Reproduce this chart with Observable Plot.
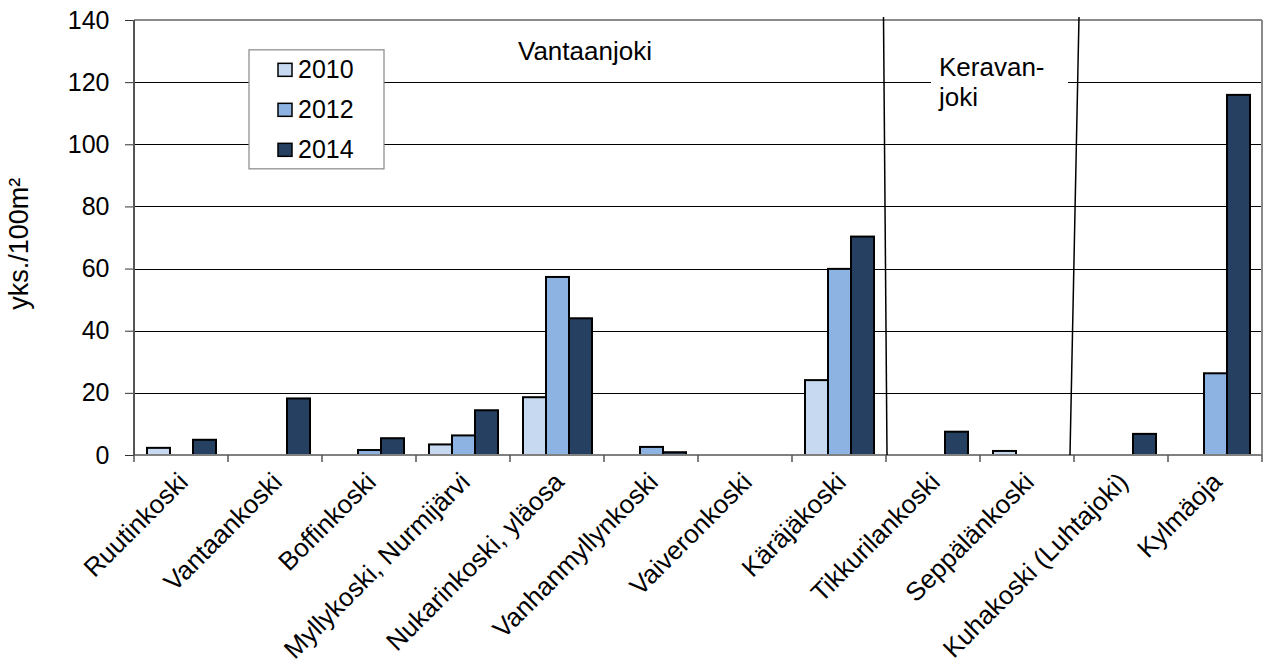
<!DOCTYPE html>
<html><head><meta charset="utf-8">
<script src="https://cdn.jsdelivr.net/npm/d3@7"></script>
<script src="https://cdn.jsdelivr.net/npm/@observablehq/plot@0.6"></script>
<style>html,body{margin:0;padding:0;background:#fff;} #chart svg{display:block;}</style>
</head><body><div id="chart"></div>
<script>
const categories = ["Ruutinkoski","Vantaankoski","Boffinkoski","Myllykoski, Nurmijärvi","Nukarinkoski, yläosa","Vanhanmyllynkoski","Vaiveronkoski","Käräjäkoski","Tikkurilankoski","Seppälänkoski","Kuhakoski (Luhtajoki)","Kylmäoja"];
const years = ["2010","2012","2014"];
const v2010 = [2.3, null, null, 3.4, 18.6, null, null, 24.1, null, 1.3, null, null];
const v2012 = [null, null, 1.6, 6.3, 57.3, 2.6, null, 59.9, null, null, null, 26.3];
const v2014 = [4.9, 18.2, 5.4, 14.4, 44.0, 0.9, null, 70.3, 7.5, null, 6.8, 115.9];
const colors = ["#C6D9F1","#8DB3E2","#254061"];
const yTicks = [0,20,40,60,80,100,120,140];
const yLabel = "yks./100m²";
const riverMain = "Vantaanjoki";
const riverKerava = ["Keravan-", "joki"];

const series = [v2010, v2012, v2014];
const rows = [];
categories.forEach((c, i) => {
  series.forEach((arr, j) => {
    if (arr[i] != null) rows.push({category: c, year: years[j], value: arr[i]});
  });
});

const FONT = "'Liberation Sans', Arial, sans-serif";
const FS = 25;

const plot = Plot.plot({
  width: 1264, height: 671,
  marginLeft: 133, marginRight: 2, marginTop: 20, marginBottom: 216,
  style: {fontFamily: FONT, fontSize: FS + "px", color: "#000", background: "#fff"},
  fx: {domain: categories, padding: 0, axis: null},
  x: {domain: years, paddingInner: 0, paddingOuter: 0.46, axis: null},
  y: {domain: [0, 140], axis: null},
  color: {domain: years, range: colors},
  marks: [
    Plot.ruleY(yTicks.filter(t => t > 0 && t < 140), {stroke: "#000", strokeWidth: 1, shapeRendering: "crispEdges"}),
    Plot.barY(rows, {fx: "category", x: "year", y: "value", fill: "year", stroke: "#000", strokeWidth: 2, insetLeft: 0, insetRight: 0}),
    Plot.axisY({ticks: yTicks, tickSize: 9, tickPadding: 16, fontSize: FS, label: null, stroke: "#333"}),
    Plot.text(categories, {fx: d => d, text: d => d, frameAnchor: "bottom", rotate: -45, textAnchor: "end", lineAnchor: "top", dy: 15, dx: -5, fontSize: 26})
  ]
});
document.getElementById("chart").appendChild(plot);

// Overlay decorations positioned from the plot's scales
const svg = d3.select(plot);
const fxS = plot.scale("fx"), yS = plot.scale("y");
const bw = fxS.bandwidth;
const xAt = i => i < categories.length ? fxS.apply(categories[i]) : fxS.apply(categories[categories.length - 1]) + bw;
const left = xAt(0), right = xAt(categories.length);
const y0 = yS.apply(0), yTop = yS.apply(140);
const g = svg.append("g").attr("text-anchor", "start");

// plot area border
g.append("line").attr("x1", left).attr("x2", right).attr("y1", yTop).attr("y2", yTop).attr("stroke", "#8a8a8a").attr("stroke-width", 2);
g.append("line").attr("x1", right).attr("x2", right).attr("y1", yTop).attr("y2", y0).attr("stroke", "#8a8a8a").attr("stroke-width", 2);
g.append("line").attr("x1", left).attr("x2", right).attr("y1", y0).attr("y2", y0).attr("stroke", "#808080").attr("stroke-width", 2);
g.append("line").attr("x1", left).attr("x2", left).attr("y1", yTop).attr("y2", y0).attr("stroke", "#555").attr("stroke-width", 2);
// x category boundary ticks
for (let i = 0; i <= categories.length; i++) {
  g.append("line").attr("x1", xAt(i)).attr("x2", xAt(i)).attr("y1", y0).attr("y2", y0 + 7).attr("stroke", "#555").attr("stroke-width", 1.5);
}
// river separators
const b1 = xAt(8), b2 = xAt(10);
g.append("line").attr("x1", b1 - 2.5).attr("y1", yTop - 3).attr("x2", b1 + 1).attr("y2", y0).attr("stroke", "#000").attr("stroke-width", 1.5);
g.append("line").attr("x1", b2 + 5).attr("y1", yTop - 3).attr("x2", b2 - 4).attr("y2", y0).attr("stroke", "#000").attr("stroke-width", 1.5);

// text helper
const txt = (x, y, s, fs) => g.append("text").attr("x", x).attr("y", y).attr("font-family", FONT).attr("font-size", fs).attr("fill", "#000").attr("text-anchor", "start").text(s);

// y axis title
g.append("text").attr("transform", `translate(${left - 106},${yS.apply(68)}) rotate(-90)`)
  .attr("text-anchor", "middle").attr("font-family", FONT).attr("font-size", 27).attr("fill", "#000").text(yLabel);

// river labels
txt(xAt(4) + 8, yS.apply(127), riverMain, 26);
g.append("rect").attr("x", xAt(8) + 45).attr("y", yS.apply(131)).attr("width", 137).attr("height", 64).attr("fill", "#fff");
txt(xAt(8) + 53, yS.apply(122), riverKerava[0], 26);
txt(xAt(8) + 53, yS.apply(112.3), riverKerava[1], 26);

// legend
const lx = xAt(1) + 21, ly = yS.apply(130.4);
g.append("rect").attr("x", lx).attr("y", ly).attr("width", 135).attr("height", 119).attr("fill", "#fff").attr("stroke", "#888").attr("stroke-width", 1.2);
years.forEach((yr, j) => {
  const cy = ly + 20 + j * 40;
  g.append("rect").attr("x", lx + 29).attr("y", cy - 6.5).attr("width", 14).attr("height", 13).attr("fill", colors[j]).attr("stroke", "#000").attr("stroke-width", 1.5);
  txt(lx + 49, cy + 8.5, yr, 25);
});
</script>
</body></html>
